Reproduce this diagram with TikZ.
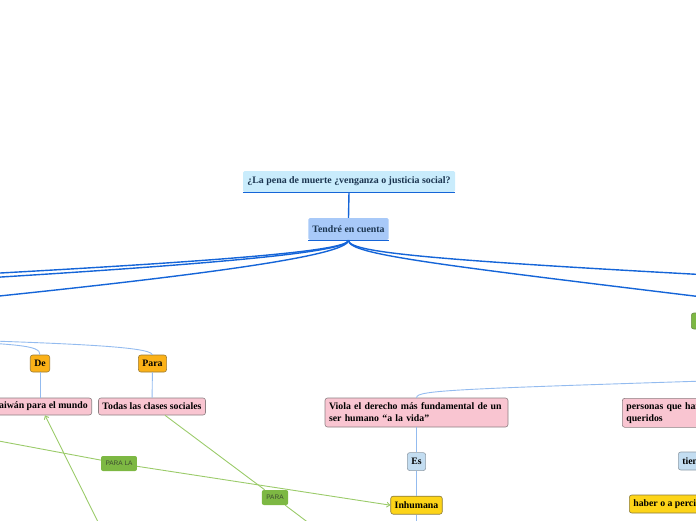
\documentclass[tikz,border=0pt]{standalone}
\usepackage{fontspec}
\setmainfont{Liberation Serif}
\newfontfamily\tagfont{Liberation Sans}
\usetikzlibrary{positioning,arrows.meta}
\definecolor{mapblue}{HTML}{1565D8}
\definecolor{linkblue}{HTML}{93BBEF}
\definecolor{titlefill}{HTML}{C9ECFC}
\definecolor{tendfill}{HTML}{A8C9F8}
\definecolor{darktext}{HTML}{1B3550}
\definecolor{pinkfill}{HTML}{F9C5D1}
\definecolor{pinkline}{HTML}{8C7F82}
\definecolor{orangefill}{HTML}{FBB117}
\definecolor{orangeline}{HTML}{9C7B32}
\definecolor{paleblue}{HTML}{C3DDF1}
\definecolor{paleline}{HTML}{8E9BA6}
\definecolor{yellowfill}{HTML}{FDD418}
\definecolor{yellowline}{HTML}{8A7B3C}
\definecolor{tagfill}{HTML}{7DB843}
\definecolor{tagtext}{HTML}{3C4A30}
\definecolor{tagline}{HTML}{9BCB6A}
\begin{document}
\begin{tikzpicture}[x=1pt,y=-1pt,>={Straight Barb[length=3pt,width=5pt]},
	topic/.style={rounded corners=2.5pt,inner xsep=4pt,inner ysep=2pt,minimum height=17pt,line width=0.6pt,font=\fontsize{9.8}{12}\selectfont\bfseries},
	pinkbox/.style={topic,fill=pinkfill,draw=pinkline},
	orangebox/.style={topic,fill=orangefill,draw=orangeline},
	palebox/.style={topic,fill=paleblue,draw=paleline,minimum height=18pt},
	yellowbox/.style={topic,fill=yellowfill,draw=yellowline,minimum height=18pt},
	tag/.style={fill=tagfill,rounded corners=2pt,inner xsep=4.5pt,minimum height=15pt,text=tagtext,font=\tagfont\fontsize{6.5}{8}\selectfont},
	trunk/.style={mapblue,line width=1.4pt},
	link/.style={linkblue,line width=0.9pt},
	greenlink/.style={tagline,line width=0.9pt}]
	\useasboundingbox (0,0) rectangle (696,520);
	\clip (0,0) rectangle (696,520);
	% main topics
	\node[fill=titlefill,rounded corners=1.5pt,minimum width=212pt,minimum height=21pt,inner sep=2pt,text=darktext,font=\fontsize{9.9}{12}\selectfont\bfseries] (title) at (349,181.5) {¿La pena de muerte ¿venganza o justicia social?};
	\node[fill=tendfill,rounded corners=1.5pt,minimum height=22pt,inner xsep=4pt,text=darktext,font=\fontsize{9.8}{12}\selectfont\bfseries] (tend) at (348.5,229) {Tendré en cuenta};
	\draw[trunk] (title.south west) -- (title.south east);
	\draw[trunk] (tend.south west) -- (tend.south east);
	\draw[trunk] (title.south) -- (tend.north);
	% branches leaving the page
	\coordinate (left1) at (-150,281);
	\coordinate (left2) at (-150,286);
	\coordinate (left3) at (-150,311);
	\coordinate (right1) at (900,285);
	\coordinate (right2) at (850,315);
	\draw[trunk] (tend.south) .. controls (348,252) and (200,263) .. (left1);
	\draw[trunk] (tend.south) .. controls (348,253) and (200,266) .. (left2);
	\draw[trunk] (tend.south) .. controls (348,256) and (200,277) .. (left3);
	\draw[trunk] (tend.south) .. controls (348,254) and (450,262) .. (right1);
	\draw[trunk] (tend.south) .. controls (348,256) and (450,266) .. (right2);
	\node[topic,fill=tagfill,draw=tagline!70!black,anchor=west,minimum width=30pt,minimum height=16pt] (green) at (691,321) {};
	% left part
	\node[orangebox] (de) at (40,363.5) {De};
	\node[orangebox] (para) at (152.5,363.5) {Para};
	\node[pinkbox,anchor=east] (taiwan) at (92,406.5) {Taiwán para el mundo};
	\node[pinkbox] (todas) at (152,406.5) {Todas las clases sociales};
	\coordinate (upleft1) at (-100,339);
	\coordinate (upleft2) at (-100,338);
	\draw[link] (upleft1) .. controls (20,344) and (40,345) .. (de.north);
	\draw[link] (upleft2) .. controls (60,343) and (150,346) .. (para.north);
	\draw[link] (de) -- (taiwan.north -| de);
	\draw[link] (para) -- (todas);
	% middle part
	\node[pinkbox,text width=175pt,align=left,minimum height=29pt] (viola) at (416.5,412.5) {Viola el derecho más fundamental de un\\ser humano “a la vida”};
	\node[palebox,below=25pt of viola] (es) {Es};
	\node[yellowbox,below=25pt of es] (inh) {Inhumana};
	\coordinate (upright) at (800,378);
	\coordinate (down) at (416.5,540);
	\draw[link] (viola.north) .. controls (417,390) and (450,389) .. (upright);
	\draw[link] (viola) -- (es);
	\draw[link] (es) -- (inh);
	\draw[link] (inh) -- (down);
	% right part
	\node[pinkbox,anchor=north west,text width=160pt,align=left,minimum height=29pt] (personas) at (622,398) {personas que han perdido a sus seres\\queridos};
	\node[palebox,anchor=west] (tienen) at (678,461) {tienen};
	\node[yellowbox,anchor=west] (haber) at (629,504) {haber o a percibir};
	% cross links
	\node[tag] (parala) at (119,463.5) {PARA LA};
	\node[tag] (paratag) at (275,497.5) {PARA};
	\coordinate (farleft) at (-60,430);
	\coordinate (farbottom) at (330,539);
	\coordinate (lowstart) at (110,546);
	\draw[greenlink,->] (farleft) -- (parala) -- (inh.west);
	\draw[greenlink] ([xshift=13pt]todas.south) -- (paratag) -- (farbottom);
	\draw[greenlink,->] (lowstart) -- ([xshift=-47pt]taiwan.south east);
\end{tikzpicture}
\end{document}
